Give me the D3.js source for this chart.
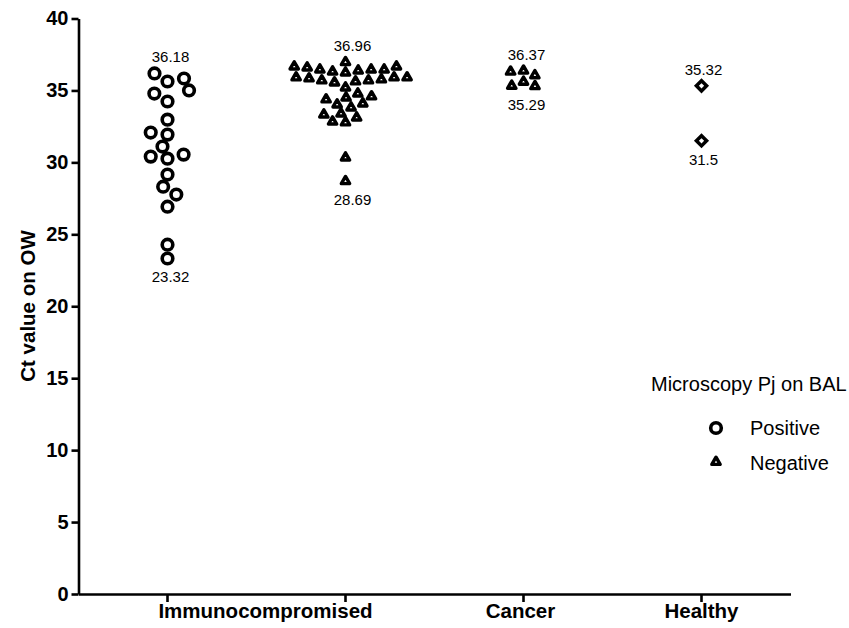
<!DOCTYPE html>
<html><head><meta charset="utf-8">
<script src="https://cdn.jsdelivr.net/npm/d3@7"></script>
<style>body{margin:0;background:#fff} text{font-family:"Liberation Sans",Arial,sans-serif}</style>
</head><body><svg id="chart" width="849" height="628"></svg>
<script>
// ---------- data ----------
const columns = ["Immunocompromised (positive)", "Immunocompromised (negative)", "Cancer", "Healthy"];
const groupLabels = ["Immunocompromised", "Cancer", "Healthy"];
const yTicks = [0, 5, 10, 15, 20, 25, 30, 35, 40];
const yTitle = "Ct value on OW";
const legendTitle = "Microscopy Pj on BAL";
const legendLabels = ["Positive", "Negative"];

// Immunocompromised, microscopy positive (circles)
const immunoPositive = [35.62, 36.18, 35.83, 34.23, 34.78, 35.0, 31.93, 32.97, 32.07,
  30.26, 30.4, 30.54, 31.1, 29.15, 28.31, 27.76, 26.92, 23.32, 24.28];
// Immunocompromised, microscopy negative (triangles)
const immunoNegative = [28.69, 30.33, 32.77, 32.83, 33.11, 33.32, 33.39, 33.81, 34.02, 34.09,
  34.37, 34.50, 34.58, 34.78, 35.20, 35.55, 35.62, 35.69, 35.69, 35.76,
  35.83, 35.90, 35.90, 35.90, 36.24, 36.31, 36.38, 36.45, 36.45, 36.45,
  36.59, 36.66, 36.66, 36.96];
// Cancer, microscopy negative (triangles)
const cancerNegative = [36.37, 36.3, 36.05, 35.6, 35.32, 35.29];
// Healthy (diamonds)
const healthy = [35.32, 31.5];

// ---------- layout ----------
const svg = d3.select("#chart");
const x = d3.scaleBand().domain(columns).range([78.5, 790.5]).padding(0);
const cx = c => x(c) + x.bandwidth() / 2;
const y = d3.scaleLinear().domain([0, 40]).range([594, 18.5]);

// y axis
const gy = svg.append("g").attr("transform", "translate(78.5,0)")
  .call(d3.axisLeft(y).tickValues(yTicks).tickSize(7).tickSizeOuter(0).tickPadding(3));
gy.select(".domain").attr("stroke", "#000").attr("stroke-width", 2.6);
gy.selectAll(".tick line").attr("stroke", "#000").attr("stroke-width", 2.6);
gy.selectAll(".tick text").attr("font-family", "Liberation Sans, Arial, sans-serif")
  .attr("font-size", 20).attr("font-weight", "bold").attr("fill", "#000");

// x axis
const gx = svg.append("g").attr("transform", "translate(0,594)")
  .call(d3.axisBottom(x).tickSize(8).tickSizeOuter(0).tickFormat(""));
gx.select(".domain").attr("stroke", "#000").attr("stroke-width", 2.6);
gx.selectAll(".tick line").attr("stroke", "#000").attr("stroke-width", 2.6);

// category labels
const labelX = [
  (cx(columns[0]) + cx(columns[1])) / 2 + 9,
  cx(columns[2]) - 3,
  cx(columns[3])
];
svg.selectAll(".catlabel").data(groupLabels).join("text")
  .attr("class", "catlabel")
  .attr("x", (d, i) => labelX[i]).attr("y", 618)
  .attr("text-anchor", "middle").attr("font-size", 20.5).attr("font-weight", "bold")
  .text(d => d);

// y title
svg.append("text").attr("transform", "translate(35,306) rotate(-90)")
  .attr("text-anchor", "middle").attr("font-size", 20.5).attr("font-weight", "bold")
  .text(yTitle);

// ---------- beeswarm ----------
function swarm(values, sx, sy) {
  const placed = [];
  values.forEach(v => {
    const py = y(v);
    const cands = [0];
    placed.forEach(p => {
      const dy = Math.abs(p.py - py);
      if (dy < sy) {
        const w = sx * Math.sqrt(1 - (dy / sy) ** 2);
        cands.push(p.dx - w, p.dx + w);
      }
    });
    cands.sort((a, b) => Math.abs(a) - Math.abs(b) || a - b);
    const ok = c => placed.every(p => ((c - p.dx) / sx) ** 2 + ((py - p.py) / sy) ** 2 >= 1 - 1e-6);
    const dx = cands.find(ok);
    placed.push({ v, py, dx });
  });
  return placed;
}

const triPath = d3.symbol().type(d3.symbolTriangle).size(30)();
const circR = 5.3;
const diamondPath = d3.symbol().type(d3.symbolSquare).size(52)();

function drawCircles(values, col) {
  const pts = swarm(values, 17, 12.5);
  svg.append("g").selectAll("circle").data(pts).join("circle")
    .attr("cx", d => cx(col) + d.dx).attr("cy", d => d.py).attr("r", circR)
    .attr("fill", "#fff").attr("stroke", "#000").attr("stroke-width", 3.6);
}
function drawTriangles(values, col) {
  const pts = swarm(values, 13, 9.5);
  svg.append("g").selectAll("path").data(pts).join("path")
    .attr("d", triPath)
    .attr("transform", d => `translate(${cx(col) + d.dx},${d.py})`)
    .attr("fill", "#fff").attr("stroke", "#000").attr("stroke-width", 3.4)
    .attr("stroke-linejoin", "round");
}
function drawDiamonds(values, col) {
  const pts = swarm(values, 15, 14);
  svg.append("g").selectAll("path").data(pts).join("path")
    .attr("d", diamondPath)
    .attr("transform", d => `translate(${cx(col) + d.dx},${d.py}) rotate(45)`)
    .attr("fill", "#fff").attr("stroke", "#000").attr("stroke-width", 3.5)
    .attr("stroke-linejoin", "miter");
}

drawCircles(immunoPositive, columns[0]);
drawTriangles(immunoNegative, columns[1]);
drawTriangles(cancerNegative, columns[2]);
drawDiamonds(healthy, columns[3]);

// max / min value labels
const groups = [
  { col: columns[0], vals: immunoPositive, off: 3 },
  { col: columns[1], vals: immunoNegative, off: 7 },
  { col: columns[2], vals: cancerNegative, off: 3 },
  { col: columns[3], vals: healthy, off: 2 }
];
groups.forEach(g => {
  const mx = d3.max(g.vals), mn = d3.min(g.vals);
  svg.append("text").attr("x", cx(g.col) + g.off).attr("y", y(mx) - 11)
    .attr("text-anchor", "middle").attr("font-size", 15).text(String(mx));
  svg.append("text").attr("x", cx(g.col) + g.off).attr("y", y(mn) + 24)
    .attr("text-anchor", "middle").attr("font-size", 15).text(String(mn));
});

// legend
svg.append("text").attr("x", 651).attr("y", 391).attr("font-size", 20).text(legendTitle);
const lg = svg.append("g");
lg.append("circle").attr("cx", 716).attr("cy", 428).attr("r", circR)
  .attr("fill", "#fff").attr("stroke", "#000").attr("stroke-width", 3.6);
lg.append("path").attr("d", triPath).attr("transform", "translate(716,462)")
  .attr("fill", "#fff").attr("stroke", "#000").attr("stroke-width", 3.4).attr("stroke-linejoin", "round");
lg.selectAll(".lt").data(legendLabels).join("text").attr("class", "lt")
  .attr("x", 750).attr("y", (d, i) => 435 + i * 35).attr("font-size", 20).text(d => d);
</script></body></html>
